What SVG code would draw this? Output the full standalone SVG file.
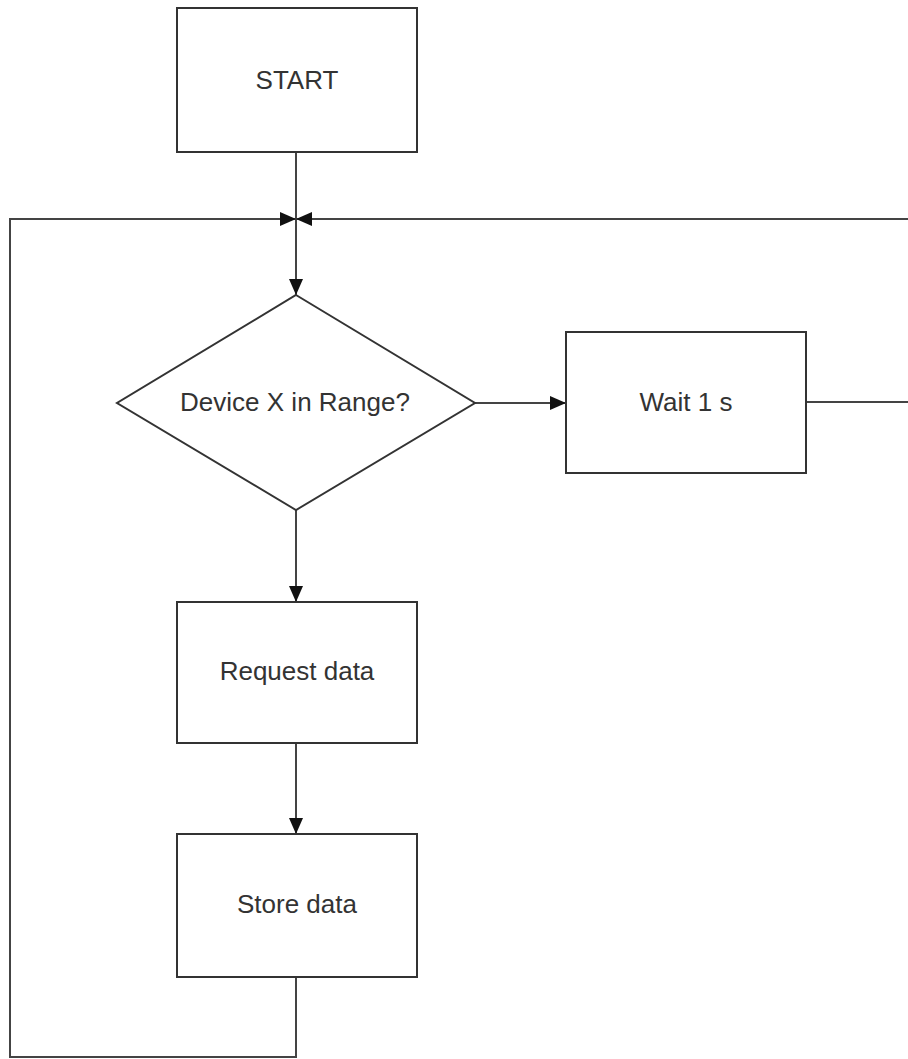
<svg xmlns="http://www.w3.org/2000/svg" width="908" height="1059" viewBox="0 0 908 1059">
  <style>
    .shape { fill: #ffffff; stroke: #333333; stroke-width: 2; }
    .label { font-family: "Liberation Sans", Arial, sans-serif; font-size: 26px; fill: #333333; text-anchor: middle; }
    .wire { fill: none; stroke: #444444; stroke-width: 2; }
  </style>
  <defs>
    <marker id="arrow" markerUnits="userSpaceOnUse" markerWidth="16" markerHeight="16" refX="16" refY="8" orient="auto">
      <path d="M0,1 L16,8 L0,15 Z" fill="#111111"/>
    </marker>
  </defs>

  <rect x="0" y="0" width="908" height="1059" fill="#ffffff"/>

  <g id="connectors">
    <!-- START down into the decision -->
    <path class="wire" d="M296,152 L296,295" marker-end="url(#arrow)"/>
    <!-- loop back from Store data -->
    <path class="wire" d="M296,977 L296,1057 L10,1057 L10,219 L296,219" marker-end="url(#arrow)"/>
    <!-- loop back from Wait 1 s -->
    <path class="wire" d="M806,402 L912,402 L912,219 L296,219" marker-end="url(#arrow)"/>
    <!-- decision: yes branch -->
    <path class="wire" d="M296,510 L296,602" marker-end="url(#arrow)"/>
    <!-- decision: no branch -->
    <path class="wire" d="M475,403 L566,403" marker-end="url(#arrow)"/>
    <!-- request to store -->
    <path class="wire" d="M296,743 L296,834" marker-end="url(#arrow)"/>
  </g>

  <g id="start">
    <rect class="shape" x="177" y="8" width="240" height="144"/>
    <text class="label" x="297" y="89">START</text>
  </g>

  <g id="in-range">
    <polygon class="shape" points="296,295 475,403 296,510 117,403"/>
    <text class="label" x="295" y="411">Device X in Range?</text>
  </g>

  <g id="wait">
    <rect class="shape" x="566" y="332" width="240" height="141"/>
    <text class="label" x="686" y="411">Wait 1 s</text>
  </g>

  <g id="request">
    <rect class="shape" x="177" y="602" width="240" height="141"/>
    <text class="label" x="297" y="680">Request data</text>
  </g>

  <g id="store">
    <rect class="shape" x="177" y="834" width="240" height="143"/>
    <text class="label" x="297" y="913">Store data</text>
  </g>
</svg>
